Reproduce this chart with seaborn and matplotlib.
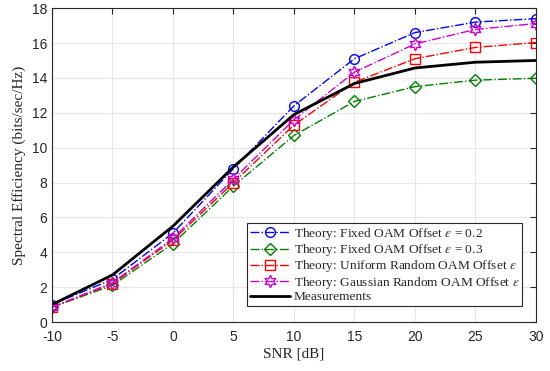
import matplotlib
matplotlib.use("Agg")
import matplotlib.pyplot as plt
import seaborn as sns
import numpy as np
import pandas as pd

snr = [-10, -5, 0, 5, 10, 15, 20, 25, 30]
fixed_02 = [1.0, 2.45, 5.1, 8.8, 12.4, 15.1, 16.6, 17.2, 17.4]
fixed_03 = [0.85, 2.1, 4.5, 7.8, 10.7, 12.65, 13.5, 13.87, 13.98]
uniform = [0.85, 2.2, 4.7, 8.0, 11.3, 13.75, 15.1, 15.75, 16.03]
gaussian = [0.85, 2.25, 4.8, 8.2, 11.6, 14.33, 15.95, 16.78, 17.12]
measured = [1.0, 2.7, 5.5, 8.9, 11.9, 13.68, 14.57, 14.9, 15.0]

labels = [
    r"Theory: Fixed OAM Offset $\epsilon$ = 0.2",
    r"Theory: Fixed OAM Offset $\epsilon$ = 0.3",
    r"Theory: Uniform Random OAM Offset $\epsilon$",
    r"Theory: Gaussian Random OAM Offset $\epsilon$",
    "Measurements",
]

sns.set_style("white")
plt.rcParams["mathtext.fontset"] = "stix"
plt.rcParams["font.family"] = ["Liberation Sans", "DejaVu Sans"]

fig = plt.figure(figsize=(5.5, 3.71), dpi=100)
ax = fig.add_axes([0.0945, 0.132, 0.88, 0.846])

series = [
    (fixed_02, "#0000ff", "o", "-."),
    (fixed_03, "#008000", "D", "-."),
    (uniform, "#ff0000", "s", "-."),
    (gaussian, "#cc00cc", (6, 1, 0), "-."),
]
for (vals, col, mk, ls), lab in zip(series, labels[:4]):
    ms = 7 if mk in ("o", "s") else (6 if mk == "D" else 9)
    sns.lineplot(x=snr, y=vals, ax=ax, color=col, linestyle=ls, linewidth=1.0,
                 marker=mk, markersize=ms, markerfacecolor="none",
                 markeredgecolor=col, markeredgewidth=1.0, label=lab)
sns.lineplot(x=snr, y=measured, ax=ax, color="black", linewidth=2.0, label=labels[4])

ax.set_xlim(-10, 30)
ax.set_ylim(0, 18)
ax.set_xticks(snr)
ax.set_xticklabels([str(v) for v in snr])
ax.set_yticks(np.arange(0, 19, 2))
ax.grid(True, color="#e6e6e6", linewidth=0.8)
ax.tick_params(direction="in", top=True, right=True, length=4, labelsize=10, colors="#262626")
ax.tick_params(axis="x", pad=6)
for sp in ax.spines.values():
    sp.set_color("#262626")
    sp.set_linewidth(0.8)

ax.set_xlabel("SNR [dB]", fontfamily="Liberation Serif", fontsize=11, labelpad=2)
ax.set_ylabel("Spectral Efficiency (bits/sec/Hz)", fontfamily="Liberation Serif", fontsize=11)

leg = ax.legend(loc="lower right", bbox_to_anchor=(0.971, 0.051), prop={"family": "Liberation Serif", "size": 9.6},
                frameon=True, fancybox=False, edgecolor="#262626", framealpha=1,
                borderpad=0.2, labelspacing=0.02, handlelength=3.0, handletextpad=0.3, borderaxespad=0)
leg.get_frame().set_linewidth(0.8)

fig.savefig("out.png", dpi=100)
